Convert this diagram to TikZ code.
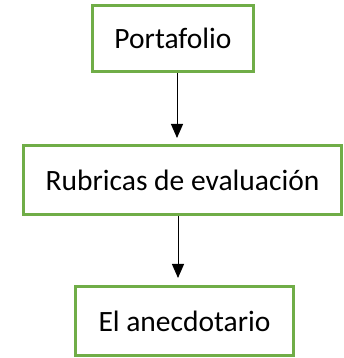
\documentclass[tikz,border=0pt]{standalone}
\usepackage{fontspec}
\setmainfont{Carlito}
\usepackage{tikz}
\usetikzlibrary{positioning, shapes}
\usetikzlibrary{arrows.meta}
\definecolor{verde}{RGB}{112,173,71}

\begin{document}
\begin{tikzpicture}[x=1pt,y=1pt]
        \tikzset{caja/.style = {draw=verde, line width=3pt, rectangle, inner sep=0pt, font=\fontsize{29.5}{35}\selectfont}}
        \tikzset{flecha/.style = {-{Triangle[length=14pt,width=12pt]}, line width=1pt}}

        \useasboundingbox (0,0) rectangle (344,358);

        \node[caja, minimum width=161pt, minimum height=66pt] (port) at (173,319.5) {Portafolio};
        \node[caja, minimum width=318pt, minimum height=69pt] (rub) at (182.5,178) {Rubricas de evaluación};
        \node[caja, minimum width=218pt, minimum height=69pt] (anec) at (184.5,37) {El anecdotario};

        % arrows
        \draw[flecha, shorten >=6pt] ([xshift=4pt]port.south) -- ([xshift=4pt]port.south |- rub.north);
        \draw[flecha, shorten >=7pt] ([xshift=-4.5pt]rub.south) -- ([xshift=-4.5pt]rub.south |- anec.north);

\end{tikzpicture}
\end{document}
